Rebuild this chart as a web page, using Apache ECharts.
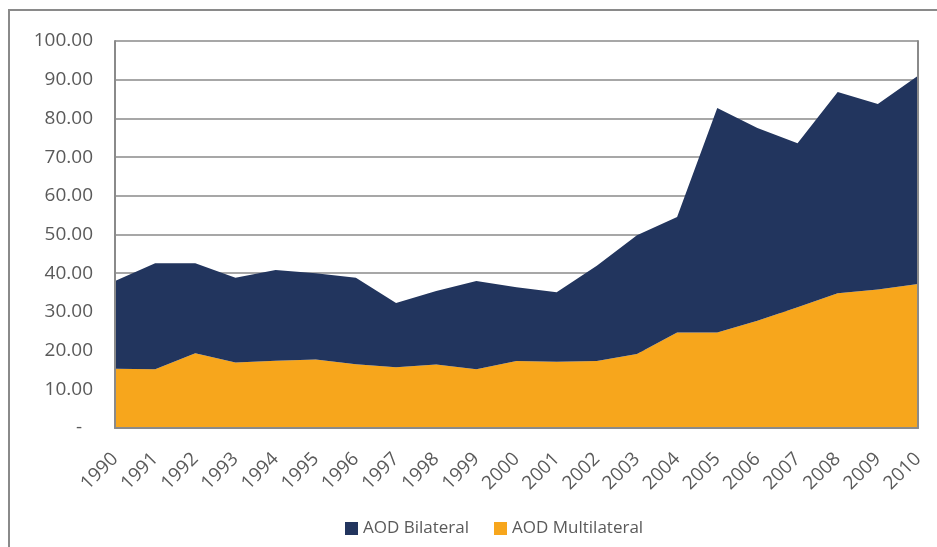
<!DOCTYPE html>
<html>
<head>
<meta charset="utf-8">
<script src="https://cdn.jsdelivr.net/npm/echarts@6/dist/echarts.min.js"></script>
<style>
  html, body { margin: 0; padding: 0; background: #fff; }
  #chart_container { width: 937px; height: 547px; }
</style>
</head>
<body>
<div id="chart_container"></div>
<script>
// years on the x axis
var years = ['1990', '1991', '1992', '1993', '1994', '1995', '1996', '1997', '1998', '1999', '2000',
             '2001', '2002', '2003', '2004', '2005', '2006', '2007', '2008', '2009', '2010'];
// AOD multilateral (bottom layer)
var multilateral = [15.3, 15.2, 19.3, 16.9, 17.4, 17.7, 16.5, 15.7, 16.4, 15.2, 17.3,
                    17.1, 17.3, 19.1, 24.7, 24.7, 27.7, 31.2, 34.8, 35.8, 37.2];
// AOD bilateral (stacked on top)
var bilateral = [22.7, 27.4, 23.3, 21.9, 23.4, 22.3, 22.3, 16.6, 19.0, 22.8, 19.1,
                 18.0, 24.6, 30.7, 29.8, 58.0, 49.8, 42.4, 52.0, 47.9, 53.8];
var yTicks = [0, 10, 20, 30, 40, 50, 60, 70, 80, 90, 100];

var textColor = '#5a5a5a';
var lineColor = '#8a8a8a';
var font = '"Open Sans", "DejaVu Sans", sans-serif';

var myChart = echarts.init(document.getElementById('chart_container'));

myChart.setOption({
    animation: false,
    textStyle: { fontFamily: font },
    graphic: [{
        type: 'rect',
        shape: { x: 9, y: 10, width: 960, height: 600 },
        style: { fill: 'none', stroke: lineColor, lineWidth: 2 },
        silent: true
    }],
    grid: { left: 115, right: 19, top: 41, bottom: 119 },
    legend: {
        left: 340,
        top: 515,
        icon: 'rect',
        itemWidth: 13,
        itemHeight: 13,
        itemGap: 25,
        textStyle: { color: textColor, fontSize: 17, fontFamily: font },
        data: ['AOD Bilateral', 'AOD Multilateral']
    },
    xAxis: {
        type: 'category',
        boundaryGap: false,
        data: years,
        z: 5,
        axisLine: { show: true, lineStyle: { color: lineColor, width: 2 } },
        axisTick: { show: false },
        axisLabel: {
            rotate: 45,
            margin: 28,
            color: textColor,
            fontSize: 19,
            fontFamily: font
        },
        splitLine: { show: false }
    },
    yAxis: [{
        type: 'value',
        min: 0,
        max: 100,
        interval: 10,
        position: 'left',
        z: 5,
        axisLine: { show: true, lineStyle: { color: lineColor, width: 2 } },
        axisTick: { show: false },
        splitLine: { show: false },
        axisLabel: {
            margin: 22,
            color: textColor,
            fontSize: 19,
            fontFamily: font,
            formatter: function (v) {
                if (yTicks.indexOf(v) < 0) return '';
                return v === 0 ? '{dash|-}' : v.toFixed(2);
            },
            rich: {
                dash: { color: textColor, fontSize: 19, fontFamily: font, padding: [0, 11, 0, 0] }
            }
        }
    }, {
        type: 'value',
        min: 0,
        max: 100,
        interval: 10,
        position: 'right',
        z: 5,
        axisLine: { show: true, lineStyle: { color: lineColor, width: 2 } },
        axisTick: { show: false },
        axisLabel: { show: false },
        splitLine: { show: false }
    }, {
        type: 'value',
        min: 0,
        max: 100,
        interval: 10,
        position: 'left',
        z: 0,
        axisLine: { show: false },
        axisTick: { show: false },
        axisLabel: { show: false },
        splitLine: { show: true, lineStyle: { color: lineColor, width: 1.5 } }
    }],
    series: [{
        name: 'AOD Multilateral',
        type: 'line',
        stack: 'aod',
        yAxisIndex: 0,
        data: multilateral,
        symbol: 'none',
        lineStyle: { width: 0 },
        itemStyle: { color: '#f7a61c' },
        areaStyle: { color: '#f7a61c', opacity: 1 }
    }, {
        name: 'AOD Bilateral',
        type: 'line',
        stack: 'aod',
        yAxisIndex: 0,
        data: bilateral,
        symbol: 'none',
        lineStyle: { width: 0 },
        itemStyle: { color: '#22355e' },
        areaStyle: { color: '#22355e', opacity: 1 }
    }]
}, true);
</script>
</body>
</html>
